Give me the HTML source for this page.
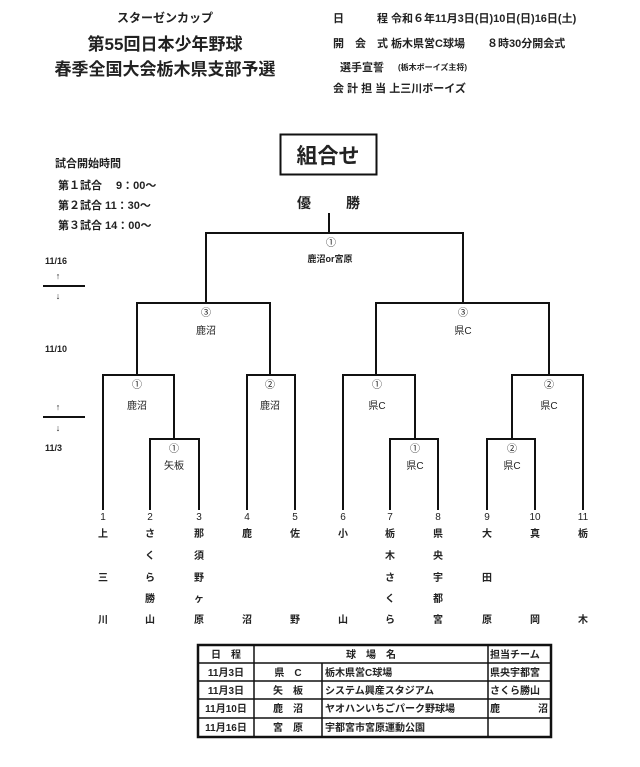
<!DOCTYPE html>
<html><head><meta charset="utf-8"><style>
body{margin:0;background:#fff;width:640px;height:767px;overflow:hidden}
svg{display:block}
text{font-family:"Liberation Sans","Noto Sans CJK JP",sans-serif;fill:#222}
.b{font-weight:bold}
</style></head><body>
<svg width="640" height="767" viewBox="0 0 640 767" xmlns="http://www.w3.org/2000/svg">
<g class="b">
<text x="165" y="22" font-size="12" text-anchor="middle" font-weight="bold">スターゼンカップ</text>
<text x="165" y="50" font-size="17" text-anchor="middle" font-weight="bold">第55回日本少年野球</text>
<text x="165" y="75" font-size="17" text-anchor="middle" font-weight="bold">春季全国大会栃木県支部予選</text>
</g>
<g font-size="11" font-weight="bold">
<text x="333" y="22">日</text><text x="377" y="22">程 令和６年11月3日(日)10日(日)16日(土)</text>
<text x="333" y="47">開　会　式 栃木県営C球場　　８時30分開会式</text>
<text x="340" y="71">選手宣誓</text><text x="398" y="70" font-size="8">(栃木ボーイズ主将)</text>
<text x="333" y="92">会 計 担 当  上三川ボーイズ</text>
</g>
<rect x="280.5" y="134.5" width="96" height="40" fill="none" stroke="#111" stroke-width="2"/>
<text x="328" y="163" font-size="21" font-weight="bold" text-anchor="middle">組合せ</text>
<g font-size="11" font-weight="bold">
<text x="55" y="167">試合開始時間</text>
<text x="58" y="189">第１試合　 9：00～</text>
<text x="58" y="209">第２試合  11：30～</text>
<text x="58" y="229">第３試合  14：00～</text>
</g>
<text x="297" y="208" font-size="14" font-weight="bold">優</text>
<text x="346" y="208" font-size="14" font-weight="bold">勝</text>
<g font-size="9" font-weight="bold">
<text x="45" y="264">11/16</text><text x="45" y="352">11/10</text><text x="45" y="451">11/3</text>
<text x="58" y="279" font-size="9" text-anchor="middle">↑</text>
<text x="58" y="299" font-size="9" text-anchor="middle">↓</text>
<text x="58" y="410" font-size="9" text-anchor="middle">↑</text>
<text x="58" y="431" font-size="9" text-anchor="middle">↓</text>
</g>
<g stroke="#111" stroke-width="2" fill="none">
<line x1="43" y1="286" x2="85" y2="286"/><line x1="43" y1="417" x2="85" y2="417"/>
<line x1="329" y1="213" x2="329" y2="233"/>
<polyline points="206,304 206,233 463,233 463,304"/>
<polyline points="137,375 137,303 270,303 270,375"/>
<polyline points="376,375 376,303 549,303 549,375"/>
<polyline points="103,510 103,375 174,375 174,439"/>
<polyline points="150,510 150,439 199,439 199,510"/>
<polyline points="247,510 247,375 295,375 295,510"/>
<polyline points="343,510 343,375 415,375 415,439"/>
<polyline points="390,510 390,439 438,439 438,510"/>
<polyline points="512,439 512,375 583,375 583,510"/>
<polyline points="487,510 487,439 535,439 535,510"/>
</g>
<g font-size="10" text-anchor="middle" fill="#333">
<text x="331" y="246">①</text><text x="330" y="262" font-size="9" font-weight="bold">鹿沼or宮原</text>
<text x="206" y="316">③</text><text x="206" y="334">鹿沼</text>
<text x="463" y="316">③</text><text x="463" y="334">県C</text>
<text x="137" y="388">①</text><text x="137" y="409">鹿沼</text>
<text x="270" y="388">②</text><text x="270" y="409">鹿沼</text>
<text x="377" y="388">①</text><text x="377" y="409">県C</text>
<text x="549" y="388">②</text><text x="549" y="409">県C</text>
<text x="174" y="452">①</text><text x="174" y="469">矢板</text>
<text x="415" y="452">①</text><text x="415" y="469">県C</text>
<text x="512" y="452">②</text><text x="512" y="469">県C</text>
</g>
<g font-size="10" text-anchor="middle" fill="#444">
<text x="103" y="520">1</text><text x="150" y="520">2</text><text x="199" y="520">3</text><text x="247" y="520">4</text><text x="295" y="520">5</text><text x="343" y="520">6</text><text x="390" y="520">7</text><text x="438" y="520">8</text><text x="487" y="520">9</text><text x="535" y="520">10</text><text x="583" y="520">11</text>
</g>
<g font-size="10" font-weight="bold" text-anchor="middle">
<text x="103" y="537">上</text><text x="103" y="581">三</text><text x="103" y="623">川</text>
<text x="150" y="537">さ</text><text x="150" y="559">く</text><text x="150" y="581">ら</text><text x="150" y="602">勝</text><text x="150" y="623">山</text>
<text x="199" y="537">那</text><text x="199" y="559">須</text><text x="199" y="581">野</text><text x="199" y="602">ヶ</text><text x="199" y="623">原</text>
<text x="247" y="537">鹿</text><text x="247" y="623">沼</text>
<text x="295" y="537">佐</text><text x="295" y="623">野</text>
<text x="343" y="537">小</text><text x="343" y="623">山</text>
<text x="390" y="537">栃</text><text x="390" y="559">木</text><text x="390" y="581">さ</text><text x="390" y="602">く</text><text x="390" y="623">ら</text>
<text x="438" y="537">県</text><text x="438" y="559">央</text><text x="438" y="581">宇</text><text x="438" y="602">都</text><text x="438" y="623">宮</text>
<text x="487" y="537">大</text><text x="487" y="581">田</text><text x="487" y="623">原</text>
<text x="535" y="537">真</text><text x="535" y="623">岡</text>
<text x="583" y="537">栃</text><text x="583" y="623">木</text>
</g>
<g stroke="#111" fill="none">
<rect x="198" y="645" width="353" height="92" stroke-width="2.5"/>
<g stroke-width="1.5">
<line x1="198" y1="663" x2="551" y2="663"/><line x1="198" y1="681" x2="551" y2="681"/><line x1="198" y1="699" x2="551" y2="699"/><line x1="198" y1="718" x2="551" y2="718"/>
<line x1="254" y1="645" x2="254" y2="737"/><line x1="322" y1="663" x2="322" y2="737"/><line x1="488" y1="645" x2="488" y2="737"/>
</g>
</g>
<g font-size="10" font-weight="bold">
<text x="226" y="658" text-anchor="middle">日　程</text>
<text x="371" y="658" text-anchor="middle">球　場　名</text>
<text x="490" y="658">担当チーム</text>
<text x="226" y="676" text-anchor="middle">11月3日</text><text x="288" y="676" text-anchor="middle">県　C</text><text x="325" y="676">栃木県営C球場</text><text x="490" y="676">県央宇都宮</text>
<text x="226" y="694" text-anchor="middle">11月3日</text><text x="288" y="694" text-anchor="middle">矢　板</text><text x="325" y="694">システム興産スタジアム</text><text x="490" y="694">さくら勝山</text>
<text x="226" y="712" text-anchor="middle">11月10日</text><text x="288" y="712" text-anchor="middle">鹿　沼</text><text x="325" y="712">ヤオハンいちごパーク野球場</text><text x="490" y="712">鹿</text><text x="538" y="712">沼</text>
<text x="226" y="731" text-anchor="middle">11月16日</text><text x="288" y="731" text-anchor="middle">宮　原</text><text x="325" y="731">宇都宮市宮原運動公園</text>
</g>
</svg>
</body></html>
